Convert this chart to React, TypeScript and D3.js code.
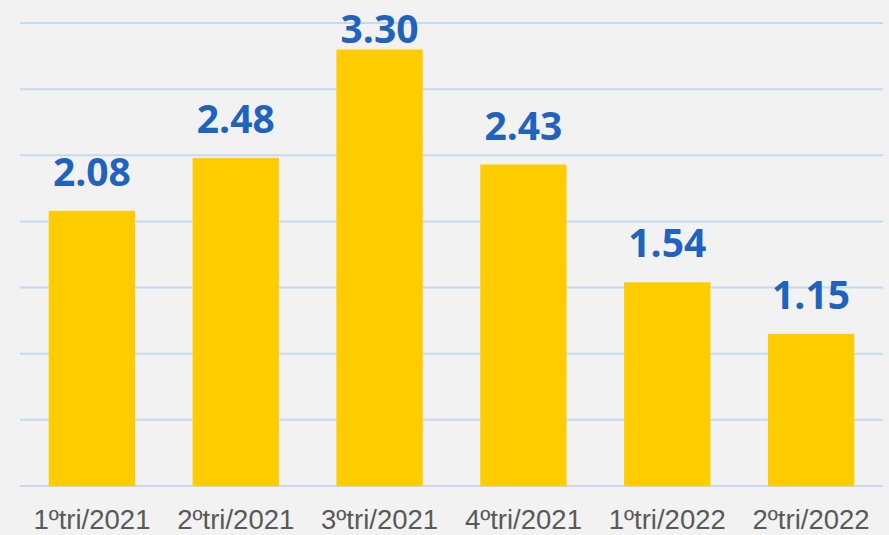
import React, { useEffect, useRef } from "react";
import * as d3 from "d3";

const categories = ["1ºtri/2021", "2ºtri/2021", "3ºtri/2021", "4ºtri/2021", "1ºtri/2022", "2ºtri/2022"];
const values = [2.08, 2.48, 3.3, 2.43, 1.54, 1.15];
const gridTicks = [0, 0.5, 1, 1.5, 2, 2.5, 3, 3.5];

export default function App() {
  const ref = useRef<SVGSVGElement>(null);

  useEffect(() => {
    const width = 889;
    const height = 535;
    const svg = d3.select(ref.current);
    svg.selectAll("*").remove();

    svg.append("rect").attr("width", width).attr("height", height).attr("fill", "#f2f2f2");

    const x = d3.scaleBand().domain(categories).range([20, 883]).paddingInner(0.4).paddingOuter(0.2);
    const y = d3.scaleLinear().domain([0, 3.5]).range([486, 23]);

    // gridlines
    svg
      .append("g")
      .selectAll("line")
      .data(gridTicks)
      .join("line")
      .attr("x1", 20)
      .attr("x2", 883)
      .attr("y1", (d) => y(d))
      .attr("y2", (d) => y(d))
      .attr("stroke", "#c6d9f0")
      .attr("stroke-width", 2);

    // bars
    svg
      .append("g")
      .selectAll("rect")
      .data(values)
      .join("rect")
      .attr("x", (_, i) => x(categories[i])!)
      .attr("y", (d) => y(d))
      .attr("width", x.bandwidth())
      .attr("height", (d) => y(0) - y(d))
      .attr("fill", "#ffcc00");

    // value labels (top one pushed down to stay inside)
    svg
      .append("g")
      .selectAll("text")
      .data(values)
      .join("text")
      .attr("x", (_, i) => x(categories[i])! + x.bandwidth() / 2)
      .attr("y", (d) => Math.max(y(d) - 25, 43))
      .attr("text-anchor", "middle")
      .attr("font-family", "'Open Sans', 'Liberation Sans', sans-serif")
      .attr("font-weight", "bold")
      .attr("font-size", 39)
      .attr("fill", "#1f63bf")
      .text((d) => d.toFixed(2));

    // x axis labels
    svg
      .append("g")
      .selectAll("text")
      .data(categories)
      .join("text")
      .attr("x", (d) => x(d)! + x.bandwidth() / 2)
      .attr("y", 529)
      .attr("text-anchor", "middle")
      .attr("font-family", "'Liberation Sans', Arial, sans-serif")
      .attr("font-size", 27.5)
      .attr("fill", "#595959")
      .text((d) => d);
  }, []);

  return (
    <svg
      ref={ref}
      width={889}
      height={535}
      style={{ position: "absolute", top: 0, left: 0, display: "block" }}
    />
  );
}
